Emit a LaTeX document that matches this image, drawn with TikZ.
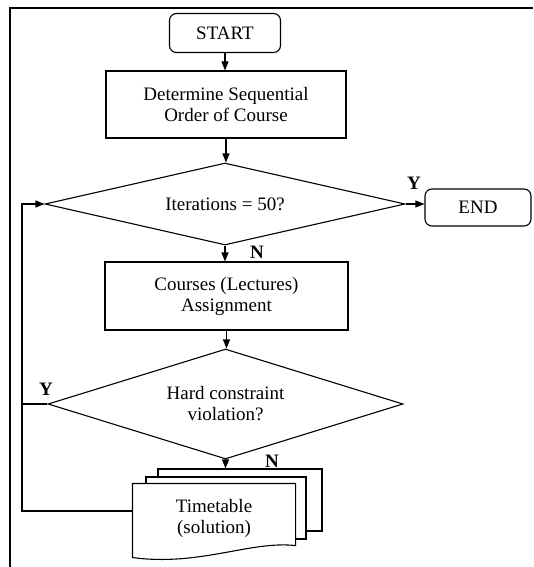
\documentclass[tikz,border=0pt]{standalone}
\usepackage{fontspec}
\setmainfont{Liberation Serif}
\usetikzlibrary{shapes.geometric,arrows.meta,calc}
\tikzset{
  term/.style={draw,rounded corners=7pt,minimum width=111pt,minimum height=39pt,inner sep=0pt},
  proc/.style={draw,minimum height=67pt,align=center,inner sep=0pt},
  decide/.style={draw,diamond,aspect=4,align=center,inner sep=0pt},
  sheet/.style={draw,fill=white,minimum height=62pt,inner sep=0pt},
  flow/.style={-{Triangle[length=9pt,width=7pt]}},
  yn/.style={font=\fontsize{19}{21}\selectfont\bfseries}
}
\begin{document}
\begin{tikzpicture}[x=1pt,y=-1pt,line width=1.1pt,font=\fontsize{19}{21}\selectfont]
\useasboundingbox (0,0) rectangle (533,567);
\draw (533,8) -- (10,8) -- (10,567);

\node (start) at (225,33) [term] {START};
\node (order) at (226,104.5) [proc,minimum width=240pt] {Determine Sequential\\Order of Course};
\node (iter) at (225,204) [decide,minimum width=360pt,minimum height=82pt] {Iterations = 50?};
\node (end) at (478,207.5) [term,minimum width=106pt,minimum height=37pt] {END};
\node (assign) at (226.5,296) [proc,minimum width=243pt,minimum height=68pt] {Courses (Lectures)\\Assignment};
\node (hard) at (225.5,404) [decide,minimum width=355pt,minimum height=110pt] {Hard constraint\\violation?};

\node (back) at (240,500) [sheet,minimum width=164pt] {};
\node (mid) at (226,508) [sheet,minimum width=160pt] {};
\node (tt) at (214,518) [fill=white,minimum width=162pt,minimum height=68pt,inner sep=0pt,align=center] {Timetable\\(solution)};
\draw (tt.north west) -- (tt.north east) -- ($(tt.south east)+(0,-7)$)
  .. controls ($(tt.south)+(36,-12)$) and ($(tt.south)+(-14,14)$) .. ($(tt.south west)+(0,5)$) -- cycle;

\coordinate (rail) at (22,404);

\draw [flow] (start.south) -- (start.south |- order.north);
\draw [flow] (order.south) -- (order.south |- iter.north);
\draw [flow] (iter.east) -- (iter.east -| end.west);
\draw [flow] (iter.south) -- (iter.south |- assign.north);
\draw [flow] (assign.south) -- (assign.south |- hard.north);
\draw [flow] (hard.south) -- (hard.south |- back.north);
\draw (hard.west) -- (rail);
\draw [flow] ([yshift=7pt]tt.west) -| (rail) |- (iter.west);

\node (y1) at (414,183) [yn] {Y};
\node (n1) at (257,252) [yn] {N};
\node (y2) at (46,389) [yn] {Y};
\node (n2) at (272,461) [yn] {N};
\end{tikzpicture}
\end{document}
